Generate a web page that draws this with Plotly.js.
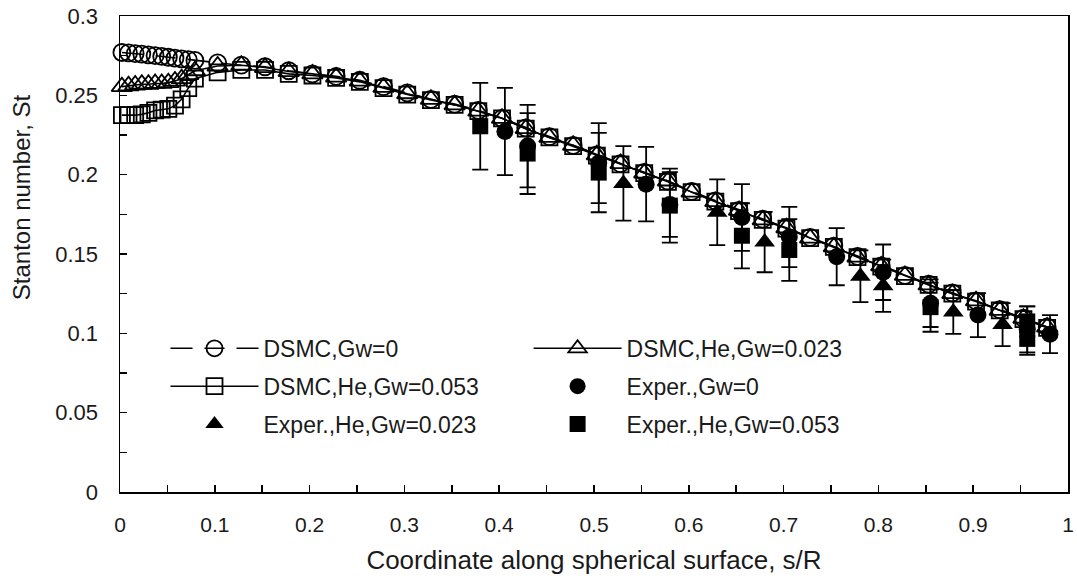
<!DOCTYPE html>
<html>
<head>
<meta charset="utf-8">
<script src="https://cdn.plot.ly/plotly-3.0.1.min.js"></script>
<style>
  html, body { margin: 0; padding: 0; background: #ffffff; }
  #chart { width: 1077px; height: 578px; }
</style>
</head>
<body>
<div id="chart"></div>
<script>
// DSMC grid: arc-length coordinate s/R (dense near the stagnation point)
const sDsmc = [
  0.002, 0.009, 0.016, 0.023, 0.030, 0.037, 0.044, 0.051, 0.058, 0.065, 0.072, 0.079,
  0.103, 0.128, 0.153, 0.178, 0.203, 0.228, 0.253, 0.278, 0.303, 0.328, 0.353, 0.378,
  0.403, 0.428, 0.453, 0.478, 0.503, 0.528, 0.553, 0.578, 0.603, 0.628, 0.653, 0.678,
  0.703, 0.728, 0.753, 0.778, 0.803, 0.828, 0.853, 0.878, 0.903, 0.928, 0.953, 0.978
];

// Stanton number, DSMC, Gw = 0
const stDsmcGw0 = [
  0.2770, 0.2767, 0.2763, 0.2760, 0.2755, 0.2750, 0.2745, 0.2740, 0.2735, 0.2730, 0.2725, 0.2720,
  0.2705, 0.2690, 0.2680, 0.2655, 0.2635, 0.2620, 0.2595, 0.2555, 0.2515, 0.2475, 0.2445, 0.2405,
  0.2355, 0.2295, 0.2240, 0.2185, 0.2125, 0.2070, 0.2015, 0.1960, 0.1895, 0.1835, 0.1775, 0.1720,
  0.1665, 0.1605, 0.1550, 0.1485, 0.1425, 0.1365, 0.1310, 0.1255, 0.1205, 0.1150, 0.1095, 0.1040
];

// Stanton number, DSMC, helium injection, Gw = 0.023
const stDsmcHe023 = [
  0.2555, 0.2560, 0.2565, 0.2570, 0.2570, 0.2575, 0.2575, 0.2580, 0.2590, 0.2605, 0.2630, 0.2655,
  0.2685, 0.2690, 0.2675, 0.2650, 0.2635, 0.2615, 0.2590, 0.2550, 0.2510, 0.2475, 0.2440, 0.2400,
  0.2355, 0.2290, 0.2235, 0.2185, 0.2125, 0.2070, 0.2010, 0.1960, 0.1890, 0.1830, 0.1775, 0.1715,
  0.1665, 0.1600, 0.1545, 0.1480, 0.1425, 0.1365, 0.1305, 0.1250, 0.1205, 0.1145, 0.1095, 0.1040
];

// Stanton number, DSMC, helium injection, Gw = 0.053
const stDsmcHe053 = [
  0.2375, 0.2375, 0.2375, 0.2380, 0.2390, 0.2405, 0.2410, 0.2415, 0.2435, 0.2475, 0.2545, 0.2605,
  0.2645, 0.2660, 0.2660, 0.2635, 0.2625, 0.2610, 0.2585, 0.2545, 0.2505, 0.2470, 0.2440, 0.2400,
  0.2355, 0.2290, 0.2235, 0.2180, 0.2120, 0.2065, 0.2010, 0.1955, 0.1890, 0.1830, 0.1770, 0.1715,
  0.1660, 0.1600, 0.1545, 0.1480, 0.1420, 0.1360, 0.1305, 0.1250, 0.1200, 0.1145, 0.1090, 0.1035
];

// Experiment, Gw = 0
const sExpGw0   = [0.406, 0.430, 0.505, 0.555, 0.580, 0.656, 0.706, 0.756, 0.805, 0.855, 0.905, 0.957, 0.981];
const stExpGw0  = [0.2272, 0.2180, 0.2073, 0.1940, 0.1812, 0.1730, 0.1607, 0.1483, 0.1385, 0.1190, 0.1115, 0.1025, 0.0995];
const errExpGw0 = [0.0275, 0.0260, 0.0252, 0.0235, 0.0204, 0.0210, 0.0190, 0.0180, 0.0175, 0.0150, 0.0139, 0.0145, 0.0120];

// Experiment, helium injection, Gw = 0.023
const sExpHe023   = [0.531, 0.630, 0.680, 0.781, 0.805, 0.879, 0.931];
const stExpHe023  = [0.1945, 0.1763, 0.1575, 0.1360, 0.1300, 0.1135, 0.1055];
const errExpHe023 = [0.0235, 0.0207, 0.0190, 0.0163, 0.0165, 0.0138, 0.0135];

// Experiment, helium injection, Gw = 0.053
const sExpHe053   = [0.380, 0.430, 0.505, 0.580, 0.656, 0.706, 0.855, 0.957, 0.957];
const stExpHe053  = [0.2305, 0.2133, 0.2013, 0.1805, 0.1615, 0.1525, 0.1165, 0.1075, 0.0965];
const errExpHe053 = [0.0273, 0.0255, 0.0250, 0.0233, 0.0205, 0.0195, 0.0155, 0.0095, 0.0100];

const FONT = 'Liberation Sans, Arial, sans-serif';
const INK = '#000000';
const TEXT = '#1a1a1a';

const dsmcLine = (dash) => ({ color: INK, width: 1.6, dash: dash });
const openMarker = (symbol, size) => ({ symbol: symbol, size: size, color: INK, line: { color: INK, width: 1.8 } });
const solidMarker = (symbol, size) => ({ symbol: symbol, size: size, color: INK, line: { color: INK, width: 0 } });
const bars = (arr) => ({ type: 'data', array: arr, visible: true, color: INK, thickness: 1.8, width: 8 });

const traces = [
  { x: sDsmc, y: stDsmcGw0, name: 'DSMC,Gw=0', mode: 'lines+markers',
    line: dsmcLine('22px,12px,20px,12px'), marker: openMarker('circle-open', 17),
    legend: 'legend', legendgroup: 'g1' },
  { x: sDsmc, y: stDsmcHe023, name: 'DSMC,He,Gw=0.023', mode: 'lines+markers',
    line: dsmcLine('solid'), marker: openMarker('triangle-up-open', 18),
    legend: 'legend2', legendgroup: 'g2' },
  { x: sDsmc, y: stDsmcHe053, name: 'DSMC,He,Gw=0.053', mode: 'lines+markers',
    line: dsmcLine('solid'), marker: openMarker('square-open', 16),
    legend: 'legend', legendgroup: 'g3' },
  { x: sExpGw0, y: stExpGw0, name: 'Exper.,Gw=0', mode: 'markers',
    marker: solidMarker('circle', 17), error_y: bars(errExpGw0),
    legend: 'legend2', legendgroup: 'g4' },
  { x: sExpHe023, y: stExpHe023, name: 'Exper.,He,Gw=0.023', mode: 'markers',
    marker: solidMarker('triangle-up', 18), error_y: bars(errExpHe023),
    legend: 'legend', legendgroup: 'g5' },
  { x: sExpHe053, y: stExpHe053, name: 'Exper.,He,Gw=0.053', mode: 'markers',
    marker: solidMarker('square', 16), error_y: bars(errExpHe053),
    legend: 'legend2', legendgroup: 'g6' }
].map(t => Object.assign({ type: 'scatter', cliponaxis: false }, t));

const legendBase = {
  orientation: 'v', xanchor: 'left', yanchor: 'top',
  bgcolor: 'rgba(0,0,0,0)', borderwidth: 0,
  font: { family: FONT, size: 23, color: TEXT },
  itemwidth: 88, tracegroupgap: 5, traceorder: 'grouped',
  itemclick: false, itemdoubleclick: false
};

const layout = {
  width: 1077, height: 578,
  margin: { l: 120, r: 9, t: 16, b: 86, pad: 0 },
  paper_bgcolor: '#ffffff', plot_bgcolor: '#ffffff',
  font: { family: FONT, color: TEXT },
  showlegend: true,
  legend: Object.assign({}, legendBase, { x: 0.048, y: 0.347 }),
  legend2: Object.assign({}, legendBase, { x: 0.431, y: 0.347 }),
  xaxis: {
    range: [0, 1], tick0: 0, dtick: 0.1,
    ticks: 'inside', ticklen: 7, tickwidth: 1.5, tickcolor: INK,
    minor: { dtick: 0.05, ticks: 'inside', ticklen: 7, tickwidth: 1.5, tickcolor: INK, showgrid: false },
    showline: true, linecolor: INK, linewidth: 1.5, mirror: true,
    showgrid: false, zeroline: false,
    tickfont: { family: FONT, size: 21, color: TEXT },
    ticklabelstandoff: 13,
    title: { text: 'Coordinate along spherical surface, s/R', font: { family: FONT, size: 26, color: TEXT }, standoff: 16 }
  },
  yaxis: {
    range: [0, 0.3], tick0: 0, dtick: 0.05,
    ticks: 'inside', ticklen: 7, tickwidth: 1.5, tickcolor: INK,
    minor: { dtick: 0.025, ticks: 'inside', ticklen: 7, tickwidth: 1.5, tickcolor: INK, showgrid: false },
    showline: true, linecolor: INK, linewidth: 1.5, mirror: true,
    showgrid: false, zeroline: false,
    tickfont: { family: FONT, size: 22, color: TEXT },
    ticklabelstandoff: 16
  },
  annotations: [
    { text: 'Stanton number, St', textangle: -90, showarrow: false,
      xref: 'paper', yref: 'paper', x: -0.103, y: 0.62, xanchor: 'center', yanchor: 'middle',
      font: { family: FONT, size: 24, color: TEXT } }
  ]
};

Plotly.newPlot('chart', traces, layout, { staticPlot: true, displayModeBar: false });
</script>
</body>
</html>
